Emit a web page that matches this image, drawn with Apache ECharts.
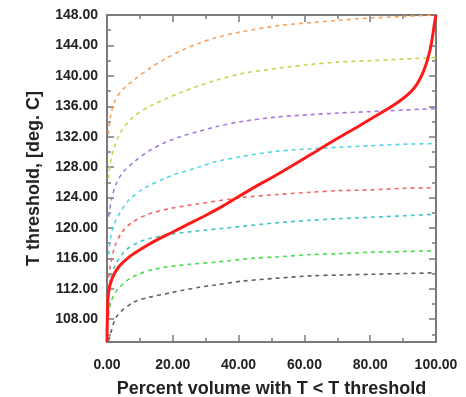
<!DOCTYPE html>
<html>
<head>
<meta charset="utf-8">
<script src="https://cdn.jsdelivr.net/npm/echarts@6/dist/echarts.min.js"></script>
<style>
  html, body { margin: 0; padding: 0; background: #ffffff; }
  #chart { width: 466px; height: 397px; }
</style>
</head>
<body>
<div id="chart"></div>
<script>
// Temperature threshold curves: [percent volume, temperature] pairs
const cumulativeCurve = [[0,105],[0.1,108],[0.4,111.3],[1.4,113.2],[3.4,114.8],[6.5,116.1],[9.5,117.0],[14.6,118.3],[19.7,119.4],[24.7,120.5],[29.8,121.6],[34.9,122.8],[39.9,124.1],[45,125.4],[51.6,127.0],[61.7,129.6],[67.8,131.2],[75,133.0],[80,134.3],[88,136.4],[93,138.2],[96,140.4],[98.2,143.4],[99.7,147.3],[100,148]];

const orangeCurve = [[0.4,132.3],[1,134.5],[2.5,136.8],[5,138.3],[8,139.4],[13,141.0],[18,142.3],[23,143.4],[28,144.3],[33,145.0],[41,145.8],[52,146.6],[62,147.0],[70,147.3],[80,147.6],[90,147.8],[100,148.0]];
const yellowCurve = [[0.4,126.5],[1,128.5],[2,130.3],[4,132.5],[8,134.6],[13,136.0],[18,137.0],[23,137.9],[28,138.7],[33,139.4],[41,140.3],[52,141.0],[62,141.5],[70,141.8],[80,142.0],[90,142.2],[100,142.4]];
const purpleCurve = [[0.5,121.5],[1.5,124.0],[3,126.0],[5,127.4],[8,128.6],[13,130.2],[18,131.3],[23,132.1],[28,132.7],[33,133.3],[41,134.0],[52,134.6],[62,134.9],[70,135.1],[80,135.3],[90,135.5],[100,135.7]];
const cyanCurve = [[0.5,116.5],[1,118.5],[2,120.3],[3.4,121.6],[6.5,123.6],[11.6,125.3],[18,126.6],[21,127.1],[28,128.0],[33,128.7],[41,129.4],[52,130.1],[62,130.4],[70,130.6],[80,130.8],[90,131.0],[100,131.1]];
const redDashCurve = [[0.5,113.5],[1,115.0],[2.4,117.6],[4.5,119.4],[7.5,120.7],[12.6,121.8],[19.7,122.6],[29.8,123.3],[41,124.0],[52,124.4],[62,124.7],[70,124.9],[80,125.0],[90,125.2],[100,125.3]];
const tealCurve = [[0.5,111.5],[1,113.2],[2.4,115.0],[5.5,117.0],[9.5,118.1],[13,118.6],[19.7,119.2],[29.8,119.7],[41,120.2],[52,120.7],[62,121.0],[70,121.2],[80,121.4],[90,121.6],[100,121.8]];
const greenCurve = [[0.5,108.5],[1,110.0],[2,111.1],[3.4,112.0],[7.5,113.5],[14.6,114.6],[24.7,115.2],[33,115.5],[44,116.0],[52,116.2],[62,116.5],[70,116.6],[80,116.8],[90,116.9],[100,117.0]];
const grayCurve = [[0.5,105.2],[1,106.0],[3,108.4],[8,110.2],[13,110.9],[19.7,111.5],[23,111.8],[28,112.2],[33,112.5],[41,113.0],[52,113.4],[62,113.7],[70,113.8],[80,113.9],[90,114.0],[100,114.1]];

const yMajorTicks = [108,112,116,120,124,128,132,136,140,144,148];
const yMinorTicks = [106,110,114,118,122,126,130,134,138,142,146];

const dashedSets = [
  { data: orangeCurve,  color: '#f4a45c' },
  { data: yellowCurve,  color: '#cfd04a' },
  { data: purpleCurve,  color: '#a877e2' },
  { data: cyanCurve,    color: '#52d6e6' },
  { data: redDashCurve, color: '#f06868' },
  { data: tealCurve,    color: '#45c6c8' },
  { data: greenCurve,   color: '#4ade4a' },
  { data: grayCurve,    color: '#606060' }
];

const FONT = '"Liberation Sans", Arial, sans-serif';
const frameColor = '#7a7a7a';
const fmt = v => Number(v).toFixed(2);

function yAxisDef(position, ticks, len, labels) {
  return {
    type: 'value', min: 105, max: 148, position: position,
    axisLine: { show: true, lineStyle: { color: frameColor, width: 2 } },
    axisTick: { show: true, inside: true, length: len, customValues: ticks, lineStyle: { color: frameColor, width: 1.5 } },
    axisLabel: labels ? { show: true, customValues: ticks, formatter: fmt, margin: 9, fontFamily: FONT, fontSize: 14, fontWeight: 'bold', color: '#222' } : { show: false },
    splitLine: { show: false }
  };
}

const chart = echarts.init(document.getElementById('chart'));
chart.setOption({
  animation: false,
  backgroundColor: '#ffffff',
  grid: { left: 107, right: 30, top: 15, bottom: 55, containLabel: false, outerBoundsMode: 'none' },
  xAxis: [
    {
      type: 'value', min: 0, max: 100, interval: 20, position: 'bottom',
      name: 'Percent volume with T < T threshold', nameLocation: 'middle', nameGap: 38,
      nameTextStyle: { fontFamily: FONT, fontSize: 18, fontWeight: 'bold', color: '#222' },
      axisLine: { show: true, lineStyle: { color: frameColor, width: 2 } },
      axisTick: { show: true, inside: true, length: 7, lineStyle: { color: frameColor, width: 1.5 } },
      minorTick: { show: true, splitNumber: 2, length: 4, lineStyle: { color: frameColor, width: 1.5 } },
      axisLabel: { formatter: fmt, margin: 16, fontFamily: FONT, fontSize: 14, fontWeight: 'bold', color: '#222' },
      splitLine: { show: false }
    },
    {
      type: 'value', min: 0, max: 100, interval: 20, position: 'top',
      axisLine: { show: true, lineStyle: { color: frameColor, width: 2 } },
      axisTick: { show: true, inside: true, length: 7, lineStyle: { color: frameColor, width: 1.5 } },
      minorTick: { show: true, splitNumber: 2, length: 4, lineStyle: { color: frameColor, width: 1.5 } },
      axisLabel: { show: false },
      splitLine: { show: false }
    }
  ],
  yAxis: [
    Object.assign(yAxisDef('left', yMajorTicks, 7, true), {
      name: 'T threshold, [deg. C]', nameLocation: 'middle', nameGap: 64, nameRotate: 90,
      nameTextStyle: { fontFamily: FONT, fontSize: 18, fontWeight: 'bold', color: '#222' }
    }),
    yAxisDef('left', yMinorTicks, 4, false),
    yAxisDef('right', yMajorTicks, 7, false),
    yAxisDef('right', yMinorTicks, 4, false)
  ],
  series: dashedSets.map(s => ({
    type: 'line', data: s.data, xAxisIndex: 0, yAxisIndex: 0,
    smooth: 0.3, showSymbol: false, silent: true,
    lineStyle: { color: s.color, width: 1.6, type: [4, 4] }
  })).concat([{
    type: 'line', data: cumulativeCurve, xAxisIndex: 0, yAxisIndex: 0,
    smooth: 0.3, showSymbol: false, silent: true, z: 5,
    lineStyle: { color: '#ff1a1a', width: 3 }
  }])
});
</script>
</body>
</html>
